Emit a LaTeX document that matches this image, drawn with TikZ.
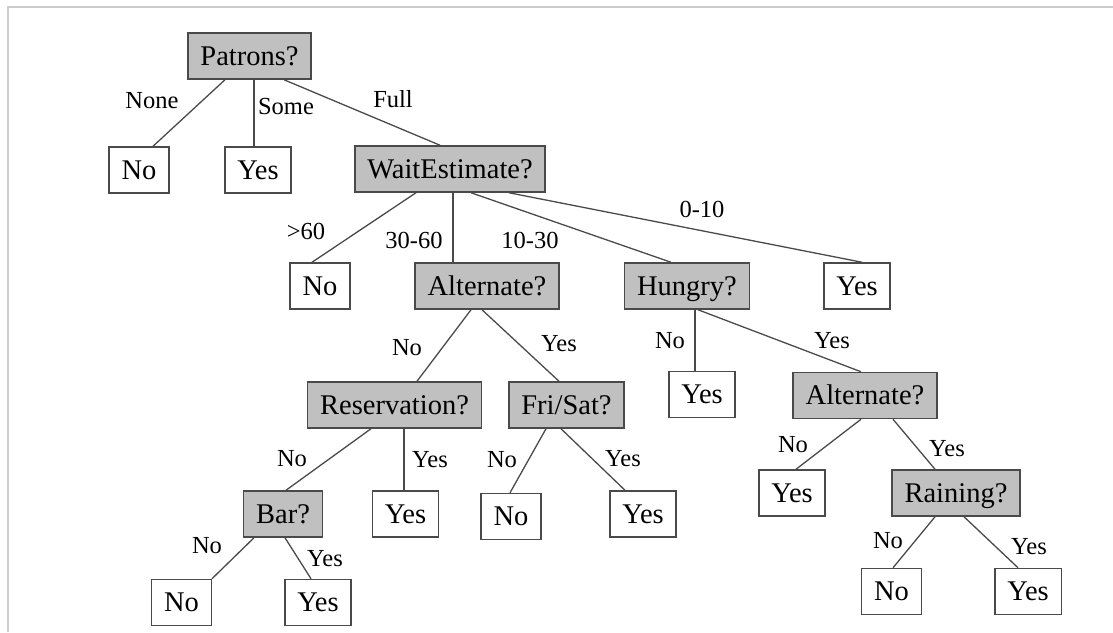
\documentclass[tikz,border=0pt]{standalone}
\usepackage{fontspec}
\setmainfont{Liberation Serif}
\usetikzlibrary{positioning,calc}
\definecolor{boxgray}{HTML}{C0C0C0}
\definecolor{linegray}{HTML}{4A4A4A}
\definecolor{framegray}{HTML}{CCCCCC}

\begin{document}
\begin{tikzpicture}[x=0.5pt, y=-0.5pt, line width=0.65pt]
	\tikzstyle{question} = [rectangle, draw=linegray, fill=boxgray, line width=0.75pt, inner xsep=6.25pt, inner ysep=0pt, minimum height=23pt, text height=11pt, text depth=1.6pt, font=\fontsize{14.25}{16}\selectfont]
	\tikzstyle{leaf} = [question, fill=white]
	\tikzstyle{branch} = [inner sep=0pt, text height=8pt, text depth=0pt, font=\fontsize{12.25}{14}\selectfont]
	\tikzstyle{link} = [draw=linegray]
	\useasboundingbox (0,0) rectangle (1113,632);
	\draw[framegray, line width=0.8pt] (8,632) -- (8,7) -- (1113,7);

	% tests and answers
	\node (patrons) [question] at (249.5,56) {Patrons?};
	\node (no1) [leaf] at (139,170) {No};
	\node (yes1) [leaf] at (258,170) {Yes};
	\node (wait) [question] at (450,169) {WaitEstimate?};
	\node (no2) [leaf] at (320,286) {No};
	\node (alt1) [question] at (487,286) {Alternate?};
	\node (hungry) [question] at (687,286) {Hungry?};
	\node (yes2) [leaf] at (857,286) {Yes};
	\node (res) [question] at (394.5,405) {Reservation?};
	\node (frisat) [question] at (566.5,405) {Fri/Sat?};
	\node (yes3) [leaf] at (702,394.5) {Yes};
	\node (alt2) [question] at (865,395.5) {Alternate?};
	\node (bar) [question] at (283,514) {Bar?};
	\node (yes4) [leaf] at (405.5,514) {Yes};
	\node (no3) [leaf] at (511,516.5) {No};
	\node (yes5) [leaf] at (643,514) {Yes};
	\node (yes6) [leaf] at (792,493) {Yes};
	\node (rain) [question] at (956,493) {Raining?};
	\node (no4) [leaf] at (181.5,602.5) {No};
	\node (yes7) [leaf] at (318,602.5) {Yes};
	\node (no5) [leaf] at (891.5,591.5) {No};
	\node (yes8) [leaf] at (1028,591.5) {Yes};

	% branches
	\draw [link] ([xshift=-12.25pt]patrons.south) -- ([xshift=7pt]no1.north);
	\draw [link] ([xshift=2.25pt]patrons.south) -- ([xshift=-2pt]yes1.north);
	\draw [link] ([xshift=17.25pt]patrons.south) -- ([xshift=-5pt]wait.north);
	\draw [link] ([xshift=-17pt]wait.south) -- ([xshift=-4pt]no2.north);
	\draw [link] ([xshift=1.5pt]wait.south) -- ([xshift=-17pt]alt1.north);
	\draw [link] ([xshift=10.5pt]wait.south) -- ([xshift=-8pt]hungry.north);
	\draw [link] ([xshift=29.5pt]wait.south) -- ([xshift=2.5pt]yes2.north);
	\draw [link] ([xshift=-8pt]alt1.south) -- ([xshift=11.25pt]res.north);
	\draw [link] ([xshift=-2.5pt]alt1.south) -- ([xshift=-3.75pt]frisat.north);
	\draw [link] ([xshift=4pt]hungry.south) -- ([xshift=-3.5pt]yes3.north);
	\draw [link] ([xshift=5.5pt]hungry.south) -- ([xshift=-2pt]alt2.north);
	\draw [link] ([xshift=-11.75pt]res.south) -- ([xshift=1.5pt]bar.north);
	\draw [link] ([xshift=4.75pt]res.south) -- ([xshift=-0.75pt]yes4.north);
	\draw [link] ([xshift=-10.25pt]frisat.south) -- ([xshift=-0.5pt]no3.north);
	\draw [link] ([xshift=-2.75pt]frisat.south) -- ([xshift=-9pt]yes5.north);
	\draw [link] ([xshift=-2pt]alt2.south) -- ([xshift=2pt]yes6.north);
	\draw [link] ([xshift=14pt]alt2.south) -- ([xshift=-10.5pt]rain.north);
	\draw [link] ([xshift=-14.5pt]bar.south) -- ([xshift=15.25pt]no4.north);
	\draw [link] ([xshift=1pt]bar.south) -- ([xshift=-3.5pt]yes7.north);
	\draw [link] ([xshift=-10.5pt]rain.south) -- ([xshift=0.75pt]no5.north);
	\draw [link] ([xshift=4pt]rain.south) -- ([xshift=-5pt]yes8.north);

	% branch labels
	\node (lnone) [branch] at (152,100) {None};
	\node (lsome) [branch] at (286,106) {Some};
	\node (lfull) [branch] at (393,99) {Full};
	\node (lover) [branch] at (306,231) {>60};
	\node (lthirty) [branch] at (414,240) {30-60};
	\node (lten) [branch] at (530,240) {10-30};
	\node (lzero) [branch] at (702,209) {0-10};
	\node (lalt1no) [branch] at (407,347) {No};
	\node (lalt1yes) [branch] at (559,343) {Yes};
	\node (lhunno) [branch] at (670,340) {No};
	\node (lhunyes) [branch] at (832,340) {Yes};
	\node (lresno) [branch] at (292,458) {No};
	\node (lresyes) [branch] at (430,459) {Yes};
	\node (lfrino) [branch] at (502,459) {No};
	\node (lfriyes) [branch] at (623,458) {Yes};
	\node (lalt2no) [branch] at (793,444) {No};
	\node (lalt2yes) [branch] at (947,448) {Yes};
	\node (lbarno) [branch] at (207,545) {No};
	\node (lbaryes) [branch] at (325,558) {Yes};
	\node (lrainno) [branch] at (888,540) {No};
	\node (lrainyes) [branch] at (1029,546) {Yes};
\end{tikzpicture}
\end{document}
